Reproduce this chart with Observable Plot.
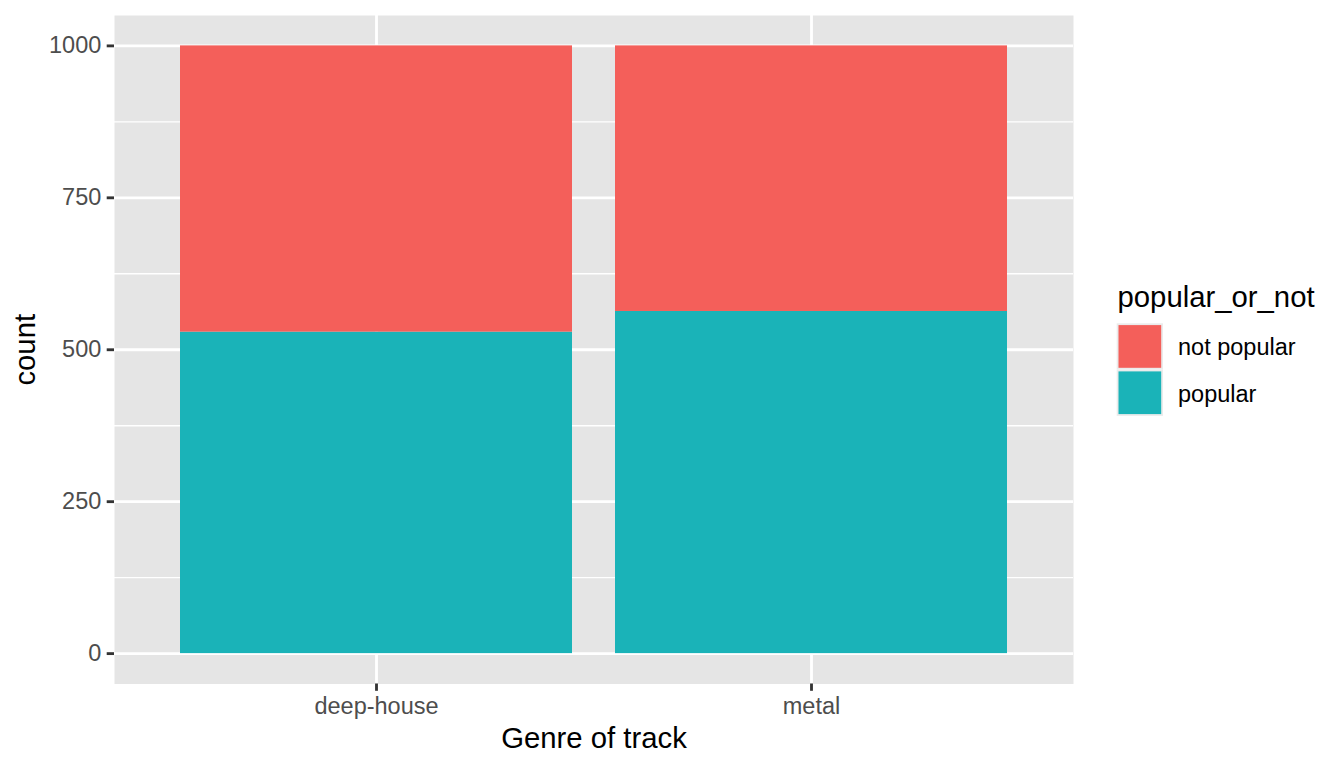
<!DOCTYPE html>
<html>
<head>
<meta charset="utf-8">
<script src="https://cdn.jsdelivr.net/npm/d3@7"></script>
<script src="https://cdn.jsdelivr.net/npm/@observablehq/plot@0.6"></script>
<style>
  html, body { margin: 0; padding: 0; background: #ffffff; }
  #chart svg { display: block; }
</style>
</head>
<body>
<div id="chart"></div>
<script>
// ---- data ----
const genres = ["deep-house", "metal"];
const popularCounts = [529, 563];
const notPopularCounts = [471, 437];
const statusLevels = ["not popular", "popular"];
const statusColors = ["#F45F5A", "#1AB3B8"];
const yMajorTicks = [0, 250, 500, 750, 1000];
const yMinorTicks = [125, 375, 625, 875];
const xTitle = "Genre of track";
const yTitle = "count";
const legendTitle = "popular_or_not";

const rows = [];
genres.forEach((g, i) => {
  rows.push({genre: g, status: "popular", count: popularCounts[i]});
  rows.push({genre: g, status: "not popular", count: notPopularCounts[i]});
});

const FONT = "Liberation Sans, Arial, Helvetica, sans-serif";
const W = 1344, H = 768;
const mL = 114, mR = 271, mT = 15, mB = 84.5;

const plot = Plot.plot({
  width: W,
  height: H,
  marginLeft: mL,
  marginRight: mR,
  marginTop: mT,
  marginBottom: mB,
  style: {background: "#ffffff", fontFamily: FONT, overflow: "visible"},
  x: {type: "band", domain: genres, paddingInner: 0.1, paddingOuter: 0.15, label: null},
  y: {domain: [-50, 1050], label: null},
  color: {domain: statusLevels, range: statusColors},
  marks: [
    Plot.frame({fill: "#E5E5E5", stroke: null}),
    Plot.ruleY(yMinorTicks, {stroke: "#ffffff", strokeWidth: 1.42}),
    Plot.ruleY(yMajorTicks, {stroke: "#ffffff", strokeWidth: 2.84}),
    Plot.ruleX(genres, {x: d => d, stroke: "#ffffff", strokeWidth: 2.84}),
    Plot.barY(rows, {x: "genre", y: "count", fill: "status", order: ["popular", "not popular"]}),
    Plot.axisY({ticks: yMajorTicks, tickFormat: d3.format("d"), tickSize: 7.3, tickPadding: 5.9, stroke: "#333333", strokeWidth: 2.84,
                fill: "#4D4D4D", fontSize: 23.5, fontFamily: FONT, label: null}),
    Plot.axisX({tickSize: 7.3, tickPadding: 5.9, stroke: "#333333", strokeWidth: 2.84,
                fill: "#4D4D4D", fontSize: 23.5, fontFamily: FONT, label: null}),
    Plot.text([xTitle], {frameAnchor: "bottom", dy: 55, fontSize: 29.3, fill: "#000000", fontFamily: FONT,
                         textAnchor: "middle", lineAnchor: "middle"}),
    Plot.text([yTitle], {frameAnchor: "left", dx: -89, rotate: -90, fontSize: 29.3, fill: "#000000", fontFamily: FONT,
                         textAnchor: "middle", lineAnchor: "middle"})
  ]
});

document.getElementById("chart").appendChild(plot);

// ---- legend (outside the panel, drawn into the same svg) ----
const svg = d3.select(plot);
const colorScale = plot.scale("color");
const lg = svg.append("g").attr("font-family", FONT).attr("text-anchor", "start");
const keyX = 1116.7, keyY0 = 323.3, keyS = 46.3, inset = 1.8;
lg.append("text")
  .attr("x", 1117.5).attr("y", 307)
  .attr("text-anchor", "start")
  .attr("font-size", 29.3).attr("fill", "#000000")
  .text(legendTitle);
colorScale.domain.forEach((lvl, i) => {
  const y = keyY0 + i * keyS;
  lg.append("rect").attr("x", keyX).attr("y", y).attr("width", keyS).attr("height", keyS).attr("fill", "#EBEBEB");
  lg.append("rect").attr("x", keyX + inset).attr("y", y + inset)
    .attr("width", keyS - 2 * inset).attr("height", keyS - 2 * inset)
    .attr("fill", colorScale.apply(lvl));
  lg.append("text").attr("x", 1178).attr("y", y + keyS / 2 + 9)
    .attr("text-anchor", "start")
    .attr("font-size", 23.5).attr("fill", "#000000").text(lvl);
});
</script>
</body>
</html>
